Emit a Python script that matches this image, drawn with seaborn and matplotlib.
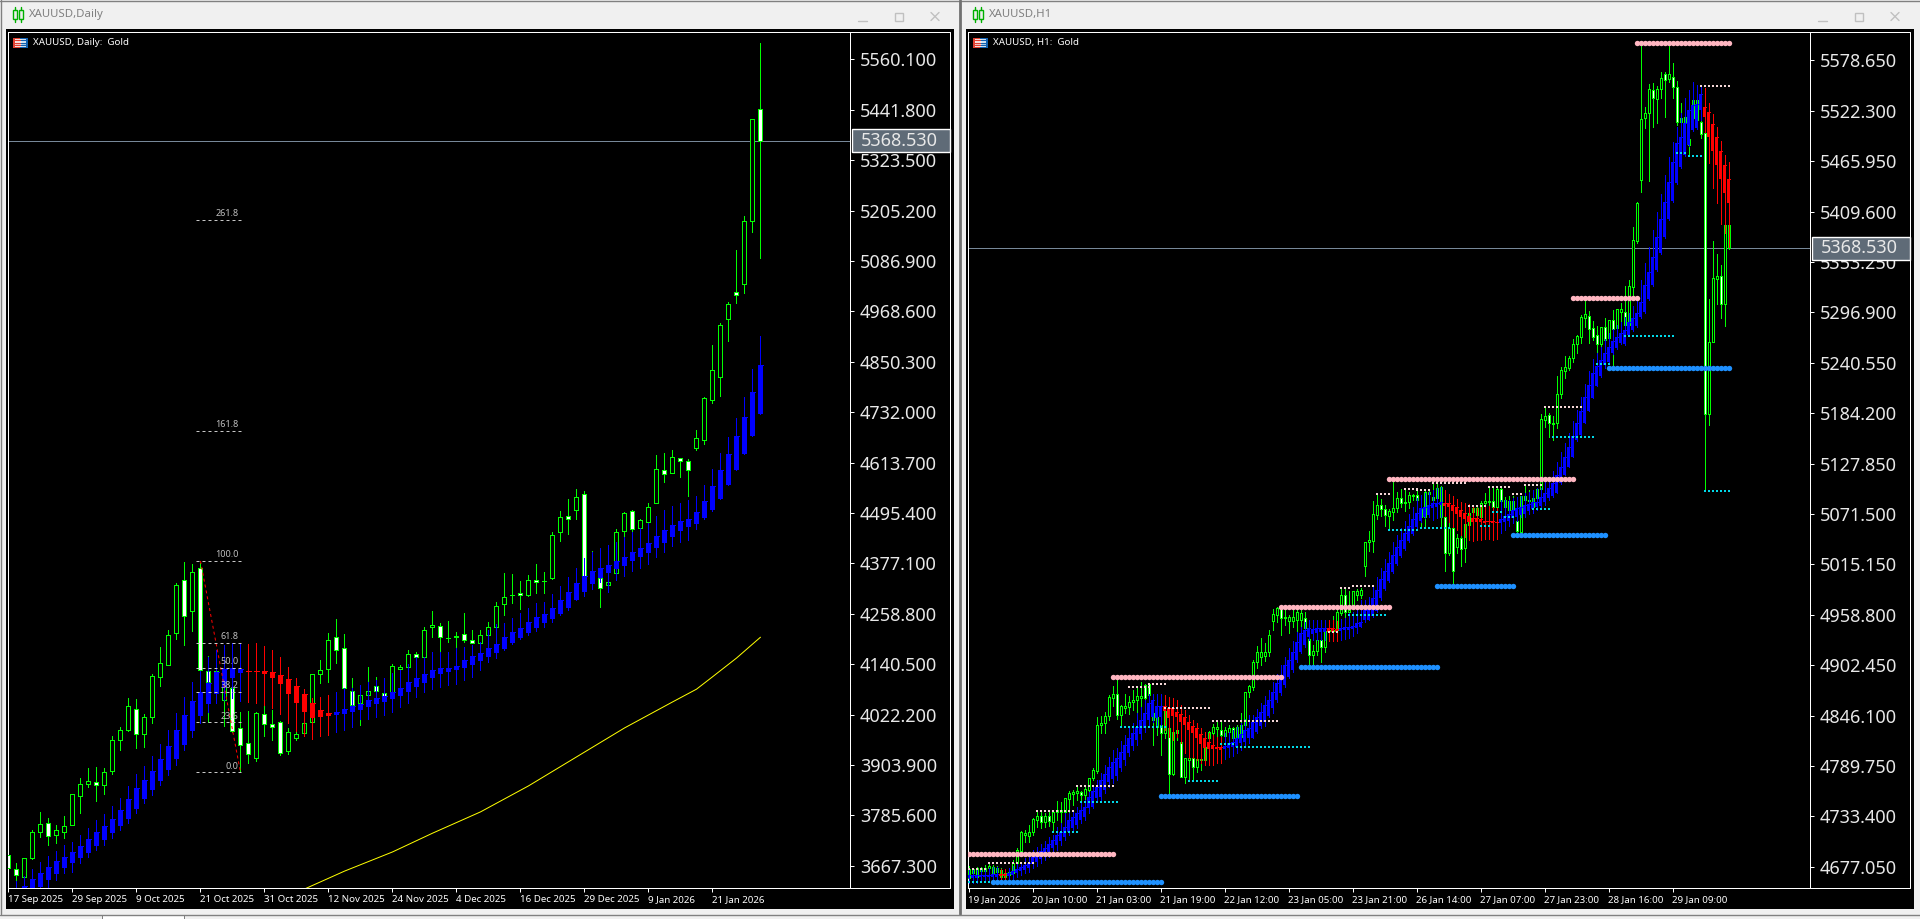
import pandas as pd
import numpy as np
import matplotlib
matplotlib.use('Agg')
import matplotlib.pyplot as plt
from matplotlib.patches import Rectangle
import seaborn as sns

W, H = 1920, 919

# ---- daily chart, values
d_high = [3693,3674,3686,3752,3794,3780,3763,3784,3836,3874,3897,3899,3897,3972,3993,4061,4059,4024,4118,4181,4221,4331,4381,4376,4378,4160,4132,4122,4090,4028,4031,4028,4047,4033,4007,3991,3989,4010,4118,4151,4214,4247,4212,4108,4092,4134,4111,4075,4141,4139,4174,4169,4228,4265,4237,4242,4216,4261,4221,4221,4240,4287,4355,4352,4336,4350,4376,4357,4451,4500,4528,4552,4547,4406,4362,4345,4458,4498,4503,4481,4519,4632,4636,4643,4625,4622,4690,4768,4890,4942,4991,5113,5192,5420,5599]
d_top = [3693,3659,3686,3747,3766,3768,3752,3761,3836,3859,3867,3864,3888,3963,3986,4042,4035,4017,4113,4143,4209,4327,4338,4357,4366,4125,4125,4104,4085,3991,3956,4026,4024,4000,4005,3982,3977,4003,4118,4127,4197,4204,4179,4078,4068,4078,4090,4073,4136,4134,4165,4165,4221,4233,4230,4203,4207,4212,4197,4209,4228,4277,4298,4304,4308,4338,4338,4337,4444,4486,4488,4533,4540,4352,4343,4334,4451,4495,4500,4479,4510,4599,4596,4627,4625,4618,4671,4765,4831,4937,4986,5014,5181,5420,5444]
d_bot = [3662,3645,3641,3686,3747,3737,3740,3747,3763,3831,3859,3857,3857,3890,3963,3986,3977,3977,4017,4111,4139,4214,4254,4266,4127,4099,4092,4057,3984,3951,3930,3920,4000,3993,3932,3937,3967,3979,4005,4118,4129,4174,4085,4045,4050,4068,4078,4066,4075,4129,4134,4158,4158,4228,4204,4201,4205,4197,4190,4190,4209,4228,4282,4302,4303,4303,4334,4335,4343,4451,4481,4503,4312,4334,4320,4327,4355,4453,4458,4460,4474,4519,4587,4589,4618,4596,4648,4667,4761,4815,4951,5007,5033,5181,5368.53]
d_low = [3655,3630,3620,3684,3735,3716,3721,3733,3763,3791,3852,3820,3836,3883,3939,3984,3944,3946,4003,4090,4139,4200,4186,4219,4125,4005,4050,3996,3982,3888,3909,3913,3972,3963,3927,3930,3963,3972,4005,4097,4099,4143,4080,4028,3998,4057,4057,4057,4075,4127,4122,4151,4158,4204,4169,4193,4174,4193,4190,4186,4207,4228,4256,4284,4270,4301,4308,4308,4341,4430,4446,4481,4301,4320,4275,4310,4355,4439,4451,4458,4470,4519,4568,4589,4580,4535,4643,4657,4753,4770,4899,4988,5012,5155,5094]
# bars with a white body
d_down = [0,1,5,11,16,22,24,25,28,29,30,32,33,34,41,42,43,46,47,51,54,57,58,64,66,70,72,74,78,82,84,85,91,94]

# smoothed candles drawn over the price
d2_top = [3600,3610,3620,3637,3651,3665,3679,3688,3700,3714,3730,3747,3761,3777,3798,3824,3850,3869,3890,3918,3949,3986,4021,4054,4075,4097,4122,4129,4132,4129,4124,4124,4125,4122,4115,4106,4090,4071,4050,4033,4026,4028,4035,4042,4047,4057,4061,4066,4075,4085,4099,4108,4118,4127,4132,4132,4136,4150,4160,4167,4179,4188,4205,4216,4226,4240,4251,4258,4273,4291,4310,4331,4348,4359,4366,4373,4383,4392,4404,4413,4425,4442,4456,4467,4477,4481,4498,4524,4559,4596,4634,4676,4721,4779,4843]
d2_bot = [3585,3590,3600,3604,3618,3634,3648,3662,3674,3686,3698,3714,3728,3744,3761,3777,3801,3824,3845,3867,3892,3918,3951,3984,4019,4047,4071,4085,4108,4120,4122,4122,4118,4108,4094,4071,4050,4028,4014,4017,4019,4021,4024,4028,4033,4040,4047,4052,4059,4066,4075,4087,4097,4108,4118,4122,4127,4132,4139,4148,4158,4167,4176,4190,4202,4214,4226,4237,4247,4258,4273,4291,4310,4329,4343,4355,4364,4371,4383,4392,4402,4413,4425,4439,4453,4463,4470,4484,4503,4528,4561,4596,4634,4676,4728]
d2_high = [3612,3632,3644,3660,3676,3691,3702,3716,3723,3740,3756,3775,3789,3808,3827,3855,3883,3902,3925,3953,3986,4026,4064,4099,4125,4158,4174,4186,4190,4190,4188,4190,4183,4174,4158,4134,4108,4082,4061,4064,4068,4075,4085,4085,4092,4099,4104,4108,4120,4127,4141,4158,4158,4169,4169,4169,4179,4181,4186,4193,4221,4235,4237,4249,4261,4273,4284,4287,4305,4324,4345,4366,4390,4404,4413,4420,4427,4439,4451,4460,4472,4488,4503,4512,4519,4526,4535,4561,4599,4636,4674,4719,4768,4833,4911]
d2_low = [3585,3590,3590,3590,3615,3618,3634,3651,3653,3674,3688,3705,3716,3733,3752,3768,3791,3815,3834,3857,3881,3904,3939,3970,4003,4028,4050,4057,4061,4054,4052,4050,4045,4038,4024,4003,3984,3972,3965,3972,3975,3982,3986,3993,4012,4012,4017,4021,4028,4040,4050,4064,4075,4082,4087,4092,4094,4104,4111,4127,4146,4155,4174,4188,4200,4209,4219,4228,4240,4256,4268,4291,4301,4317,4334,4310,4338,4348,4359,4366,4376,4392,4404,4418,4427,4432,4458,4481,4500,4528,4561,4596,4634,4676,4728]
d2_red = list(range(30, 41))

ma_bar = [37,42,48,53,59,65,71,77,83,86,88,91,94]
ma_price = [3613,3655,3700,3744,3794,3855,3923,3991,4052,4082,4111,4155,4204]

fib_names = ['0.0','23.6','38.2','50.0','61.8','100.0','161.8','261.8']
fib_price = [3887,4004,4076,4132,4191,4383,4688,5183]

d_ticks = [5560.1,5441.8,5323.5,5205.2,5086.9,4968.6,4850.3,4732.0,4613.7,4495.4,4377.1,4258.8,4140.5,4022.2,3903.9,3785.6,3667.3]
d_dates = ['17 Sep 2025','29 Sep 2025','9 Oct 2025','21 Oct 2025','31 Oct 2025','12 Nov 2025','24 Nov 2025','4 Dec 2025','16 Dec 2025','29 Dec 2025','9 Jan 2026','21 Jan 2026']

# ---- hourly chart
h_high = [4678,4676,4677,4677,4679,4681,4679,4678,4676,4673,4673,4685,4698,4717,4718,4724,4732,4738,4739,4737,4739,4738,4751,4749,4754,4762,4763,4767,4762,4767,4776,4787,4844,4846,4850,4869,4879,4887,4858,4870,4868,4875,4879,4884,4881,4882,4866,4849,4860,4852,4856,4839,4831,4818,4799,4799,4799,4798,4799,4824,4829,4837,4839,4840,4833,4836,4833,4836,4849,4872,4880,4908,4924,4933,4927,4942,4965,4967,4969,4970,4958,4964,4969,4967,4962,4953,4925,4940,4950,4944,4953,4957,4964,4989,4989,4985,4985,4988,4989,5040,5052,5086,5094,5088,5082,5077,5108,5096,5099,5100,5096,5094,5099,5079,5098,5098,5106,5107,5103,5069,5064,5057,5049,5049,5060,5076,5082,5082,5086,5095,5103,5102,5100,5100,5090,5092,5091,5071,5091,5105,5098,5096,5100,5183,5191,5184,5181,5226,5236,5248,5248,5267,5272,5294,5310,5298,5287,5282,5280,5291,5288,5299,5301,5307,5326,5333,5392,5420,5598,5527,5552,5553,5550,5566,5566,5596,5576,5556,5531,5521,5510,5536,5536,5518,5540,5312,5377,5362,5350,5395,5395]
h_top = [4675,4675,4676,4676,4676,4678,4677,4676,4673,4670,4671,4681,4696,4716,4715,4716,4730,4734,4734,4734,4734,4738,4741,4741,4754,4760,4761,4762,4761,4764,4776,4785,4836,4838,4846,4867,4870,4870,4857,4857,4861,4863,4868,4868,4880,4881,4849,4844,4836,4851,4832,4828,4830,4817,4799,4799,4799,4798,4798,4811,4828,4833,4833,4830,4830,4832,4832,4833,4836,4872,4879,4906,4917,4917,4917,4936,4960,4966,4967,4956,4956,4956,4962,4961,4955,4932,4918,4931,4931,4941,4942,4942,4962,4981,4981,4964,4985,4985,4986,5040,5042,5071,5082,5082,5077,5075,5078,5089,5089,5085,5093,5093,5093,5078,5096,5096,5090,5100,5102,5068,5056,5056,5045,5045,5060,5072,5078,5078,5084,5086,5086,5086,5099,5099,5087,5086,5086,5064,5091,5091,5087,5089,5099,5178,5181,5182,5173,5206,5232,5236,5246,5261,5270,5292,5295,5293,5279,5272,5280,5280,5288,5288,5301,5301,5297,5326,5378,5419,5513,5520,5547,5545,5547,5559,5563,5563,5560,5549,5514,5515,5491,5534,5534,5510,5497,5264,5335,5338,5338,5395,5395]
h_bot = [4664,4670,4666,4672,4672,4676,4670,4671,4666,4666,4668,4670,4681,4695,4713,4711,4716,4729,4727,4727,4728,4727,4738,4738,4738,4753,4758,4760,4757,4757,4763,4776,4784,4836,4838,4846,4866,4847,4847,4855,4856,4861,4863,4866,4866,4869,4841,4833,4827,4827,4781,4781,4827,4777,4777,4796,4789,4789,4796,4796,4821,4827,4831,4824,4823,4828,4821,4822,4822,4836,4872,4878,4906,4912,4913,4917,4952,4958,4955,4955,4952,4952,4953,4953,4944,4914,4914,4918,4923,4923,4941,4941,4942,4961,4962,4962,4967,4981,4981,5013,5040,5041,5070,5077,5070,5069,5074,5078,5084,5084,5085,5092,5087,5068,5068,5094,5087,5089,5068,5028,5028,5008,5035,5032,5033,5059,5074,5070,5068,5084,5085,5079,5079,5086,5079,5076,5077,5052,5051,5087,5086,5079,5089,5099,5177,5173,5172,5173,5206,5231,5235,5246,5261,5269,5291,5278,5269,5261,5261,5266,5268,5278,5279,5297,5283,5283,5325,5377,5445,5514,5520,5536,5535,5547,5557,5558,5549,5510,5510,5510,5484,5514,5512,5496,5183,5183,5264,5334,5306,5306,5369]
h_low = [4661,4663,4661,4667,4664,4669,4662,4664,4660,4661,4663,4664,4678,4692,4705,4705,4713,4721,4720,4721,4723,4716,4729,4724,4729,4738,4746,4752,4748,4752,4762,4774,4782,4827,4827,4841,4857,4842,4833,4849,4848,4852,4850,4856,4864,4857,4813,4824,4802,4821,4757,4780,4819,4777,4771,4773,4774,4783,4785,4794,4813,4821,4821,4819,4815,4819,4816,4819,4821,4833,4867,4875,4899,4903,4907,4913,4942,4951,4936,4947,4938,4945,4940,4936,4936,4903,4903,4914,4906,4917,4929,4940,4941,4959,4953,4956,4967,4975,4977,5002,5030,5029,5066,5069,5058,5054,5065,5074,5079,5075,5078,5087,5079,5057,5058,5090,5065,5087,5058,5008,5026,4993,5028,5013,5018,5057,5065,5065,5065,5079,5082,5074,5079,5085,5072,5069,5074,5050,5050,5076,5076,5076,5087,5099,5169,5157,5154,5168,5201,5224,5232,5241,5251,5263,5280,5263,5266,5251,5258,5260,5266,5238,5277,5286,5277,5280,5314,5374,5431,5503,5444,5504,5509,5536,5515,5554,5536,5506,5506,5501,5473,5510,5506,5492,5097,5171,5264,5306,5291,5282,5368]
h_down = [1,3,4,7,8,9,18,20,23,28,37,44,45,47,48,50,53,56,63,66,78,84,85,88,94,103,104,108,112,115,119,121,123,131,133,137,145,155,156,157,159,161,164,171,174,176,177,183,184,188]

h2_top = [4668,4668,4668,4668,4668,4668,4669,4669,4669,4669,4670,4672,4675,4677,4679,4681,4688,4690,4695,4698,4703,4707,4713,4716,4721,4729,4733,4737,4741,4744,4755,4762,4766,4774,4781,4789,4794,4799,4805,4813,4821,4827,4833,4841,4849,4860,4864,4857,4857,4857,4855,4855,4850,4848,4844,4839,4834,4832,4826,4821,4817,4813,4811,4811,4812,4815,4817,4821,4826,4830,4832,4839,4844,4850,4858,4864,4872,4883,4891,4903,4908,4917,4928,4938,4942,4944,4943,4944,4944,4944,4944,4944,4943,4944,4945,4945,4946,4950,4951,4964,4965,4978,4986,4999,5008,5017,5026,5035,5042,5050,5058,5066,5072,5078,5079,5082,5084,5084,5085,5084,5084,5082,5079,5076,5072,5069,5067,5067,5066,5064,5064,5064,5062,5066,5069,5071,5076,5078,5079,5082,5083,5085,5085,5090,5095,5100,5106,5115,5124,5135,5146,5159,5173,5187,5202,5216,5229,5237,5244,5251,5258,5265,5269,5274,5277,5286,5291,5296,5308,5327,5342,5359,5381,5401,5420,5443,5465,5486,5493,5509,5523,5529,5530,5541,5526,5521,5507,5493,5477,5462,5446]
h2_bot = [4664,4664,4664,4666,4666,4666,4666,4666,4667,4667,4667,4668,4670,4672,4673,4676,4680,4682,4686,4689,4694,4698,4701,4706,4710,4716,4720,4724,4729,4733,4743,4744,4754,4755,4763,4772,4775,4779,4787,4796,4804,4812,4819,4826,4832,4841,4844,4843,4844,4851,4843,4846,4844,4839,4836,4830,4827,4821,4814,4810,4809,4809,4809,4808,4809,4810,4811,4811,4815,4817,4821,4821,4828,4834,4839,4846,4855,4864,4871,4880,4889,4897,4908,4917,4925,4934,4937,4938,4940,4940,4940,4940,4940,4941,4942,4942,4943,4944,4945,4953,4953,4957,4963,4978,4988,4997,5007,5016,5025,5032,5041,5049,5057,5064,5068,5070,5078,5079,5082,5080,5079,5075,5071,5068,5066,5062,5062,5062,5062,5061,5062,5061,5061,5061,5062,5064,5067,5068,5070,5071,5075,5077,5079,5080,5085,5089,5092,5095,5106,5115,5124,5135,5154,5160,5173,5187,5201,5215,5226,5238,5241,5251,5257,5263,5261,5272,5277,5282,5292,5297,5312,5327,5344,5363,5381,5401,5421,5441,5459,5473,5484,5501,5503,5523,5515,5493,5477,5462,5446,5430,5419]
h2_high = [4676,4676,4676,4676,4676,4676,4677,4677,4675,4675,4676,4678,4681,4682,4687,4690,4696,4699,4703,4706,4710,4713,4721,4726,4737,4737,4741,4744,4748,4752,4761,4766,4774,4782,4791,4800,4808,4810,4818,4824,4832,4838,4849,4856,4864,4870,4870,4870,4870,4869,4867,4866,4864,4858,4852,4847,4841,4838,4832,4828,4827,4824,4822,4822,4827,4828,4830,4833,4838,4842,4847,4847,4853,4860,4868,4875,4884,4892,4903,4912,4922,4929,4939,4945,4951,4953,4953,4953,4953,4953,4953,4953,4952,4954,4955,4961,4962,4966,4975,4975,4979,4990,5001,5011,5021,5029,5040,5048,5056,5064,5071,5079,5089,5093,5095,5096,5098,5100,5102,5098,5094,5091,5088,5085,5084,5083,5079,5078,5080,5079,5080,5079,5078,5087,5087,5087,5089,5090,5092,5095,5096,5098,5100,5100,5109,5112,5120,5130,5141,5151,5162,5175,5188,5202,5217,5231,5245,5251,5258,5267,5274,5278,5283,5286,5292,5296,5304,5314,5333,5352,5370,5389,5409,5429,5450,5471,5487,5504,5520,5536,5545,5554,5551,5551,5548,5531,5519,5504,5488,5473,5465]
h2_low = [4659,4659,4659,4660,4660,4660,4661,4661,4661,4661,4662,4662,4666,4668,4670,4671,4676,4678,4681,4685,4688,4694,4696,4701,4707,4713,4716,4720,4726,4729,4737,4743,4749,4752,4760,4766,4771,4774,4784,4791,4801,4808,4813,4820,4828,4836,4839,4836,4836,4830,4822,4819,4822,4815,4804,4799,4799,4796,4793,4791,4791,4791,4793,4793,4798,4800,4801,4804,4808,4811,4815,4821,4827,4832,4834,4844,4849,4861,4869,4878,4888,4895,4906,4916,4923,4931,4931,4931,4931,4931,4930,4930,4929,4931,4932,4933,4935,4938,4945,4951,4953,4956,4962,4975,4986,4995,5006,5014,5023,5031,5040,5048,5055,5062,5067,5068,5065,5067,5068,5069,5062,5057,5054,5048,5046,5042,5041,5042,5042,5043,5043,5042,5044,5050,5054,5058,5061,5064,5068,5068,5071,5072,5076,5078,5082,5087,5090,5095,5105,5115,5124,5135,5153,5159,5173,5187,5201,5215,5225,5235,5241,5250,5256,5261,5260,5270,5276,5280,5291,5296,5311,5326,5343,5362,5380,5400,5420,5440,5458,5472,5483,5500,5502,5512,5498,5464,5436,5419,5396,5386,5370]
h2_red = [8,9] + list(range(49, 64)) + [90,91,92] + list(range(119, 133)) + list(range(184, 191))

# support / resistance levels: price, first bar, last bar
pink_levels = [(4691,0,36),(4889,36,78),(4968,78,105),(5111,105,151),(5313,151,167),(5598,167,190)]
blue_levels = [(4660,6,48),(4756,48,82),(4900,83,117),(4991,117,136),(5048,136,159),(5235,160,190)]
white_levels = [(4675,0,4),(4681,5,16),(4739,17,26),(4767,27,36),(4878,40,45),(4881,45,49),(4855,49,60),(4840,61,77),
                (4940,90,92),(4989,93,95),(4991,96,101),(5094,102,105),(5099,109,112),(5098,112,115),(5106,116,124),
                (5080,125,129),(5102,130,135),(5094,136,138),(5104,139,143),(5191,144,153),(5550,183,190)]
cyan_levels = [(4660,0,6),(4716,21,27),(4749,28,37),(4833,38,49),(4773,55,62),(4814,63,66),(4811,67,85),(4959,95,104),
               (5054,105,112),(5056,113,120),(5058,128,130),(5074,131,133),(5068,134,136),(5077,141,145),(5158,146,156),
               (5239,157,160),(5270,164,176),(5475,177,179),(5472,180,183),(5097,184,190)]

h_ticks = [5578.65,5522.30,5465.95,5409.60,5353.25,5296.90,5240.55,5184.20,5127.85,5071.50,5015.15,4958.80,4902.45,4846.10,4789.75,4733.40,4677.05]
h_dates = ['19 Jan 2026','20 Jan 10:00','21 Jan 03:00','21 Jan 19:00','22 Jan 12:00','23 Jan 05:00','23 Jan 21:00','26 Jan 14:00','27 Jan 07:00','27 Jan 23:00','28 Jan 16:00','29 Jan 09:00']

last_price = 5368.53

sns.set_theme(style='dark', rc={'axes.facecolor': 'black', 'axes.grid': False})
plt.rcParams['font.family'] = ['Noto Sans', 'DejaVu Sans']

PX = 0.72  # one pixel in points at dpi 100
LIME = '#00ff00'
TXT = '#e8e8e8'


def px_axes(fig, left, top, right, bottom, zorder):
    return fig.add_axes([left / W, (H - bottom) / H, (right - left) / W, (bottom - top) / H], zorder=zorder)


def draw_candles(ax, top, bot, high, low, down, width):
    df = pd.DataFrame({'top': top, 'bot': bot, 'high': high, 'low': low})
    df['bar'] = df.index
    df['face'] = 'black'
    df.loc[down, 'face'] = 'white'
    ax.vlines(df['bar'], df['low'], df['high'], colors=LIME, linewidth=PX, antialiased=False, zorder=2)
    ax.bar(df['bar'], df['top'] - df['bot'], bottom=df['bot'], width=width, color=df['face'],
           edgecolor=LIME, linewidth=PX, antialiased=False, zorder=3)


def draw_smooth(ax, top, bot, high, low, red, width):
    df = pd.DataFrame({'top': top, 'bot': bot, 'high': high, 'low': low})
    df['bar'] = df.index
    df['col'] = '#0000ff'
    df.loc[red, 'col'] = '#ff0000'
    ax.vlines(df['bar'], df['low'], df['high'], colors=df['col'], linewidth=PX, antialiased=False, zorder=4)
    ax.bar(df['bar'], df['top'] - df['bot'], bottom=df['bot'], width=width, color=df['col'],
           edgecolor='none', linewidth=0, antialiased=False, zorder=4)
    # thin bodies still need one row of pixels
    ax.hlines(df['top'], df['bar'] - width / 2, df['bar'] + width / 2, colors=df['col'], linewidth=PX,
              antialiased=False, zorder=4)


def draw_levels(ax, levels, color, marker, size, zorder):
    rows = []
    for price, first, last in levels:
        for b in range(first, last + 1):
            rows.append((b, price))
    dots = pd.DataFrame(rows, columns=['bar', 'price'])
    sns.scatterplot(data=dots, x='bar', y='price', color=color, marker=marker, s=size, linewidth=0,
                    legend=False, ax=ax, zorder=zorder)


def style_price_axes(ax, ticks, dates, step, xlim, ylim):
    ax.set_xlim(*xlim)
    ax.set_ylim(*ylim)
    ax.set_facecolor('black')
    ax.yaxis.tick_right()
    ax.set_yticks(ticks)
    ax.set_yticklabels(['%.3f' % t for t in ticks], fontsize=13, color=TXT)
    ax.set_xticks([i * step for i in range(len(dates))])
    ax.set_xticklabels(dates, fontsize=7, color='white', ha='left')
    ax.tick_params(axis='y', length=2.9, width=PX, color='white', pad=4.2, right=True, left=False)
    ax.tick_params(axis='x', length=2.9, width=PX, color='white', pad=2, bottom=True)
    ax.set_xlabel('')
    ax.set_ylabel('')
    for s in ax.spines.values():
        s.set_color('white')
        s.set_linewidth(PX)
    ax.axhline(last_price, color='#778899', linewidth=PX, zorder=1)


fig = plt.figure(figsize=(W / 100, H / 100), dpi=100, facecolor='#f0f0f0')

# window frames behind everything
back = fig.add_axes([0, 0, 1, 1], zorder=0)
back.set_xlim(0, W)
back.set_ylim(H, 0)
back.axis('off')
for off in [0, 960]:
    back.add_patch(Rectangle((6 + off, 29), 948, 880, facecolor='black', edgecolor='none'))
    back.plot([850 + off, 950 + off, 950 + off, 850 + off], [32, 32, 888, 888], color='white', linewidth=PX)
back.plot([0, 959], [0.5, 0.5], color='#808080', linewidth=1)
back.plot([961, W], [0.5, 0.5], color='#808080', linewidth=1)
back.plot([0.5, 0.5], [0, 914], color='#808080', linewidth=1)
back.plot([960, 960], [0, 914], color='#707070', linewidth=2)
back.plot([0, W], [914.5, 914.5], color='#808080', linewidth=1)
back.add_patch(Rectangle((102, 915), 82, 4, facecolor='white', edgecolor='#808080', linewidth=PX))

# ---- daily panel
ax1 = px_axes(fig, 8, 32, 850, 888, 1)
draw_candles(ax1, d_top, d_bot, d_high, d_low, d_down, 0.5)
draw_smooth(ax1, d2_top, d2_bot, d2_high, d2_low, d2_red, 0.6)
sns.lineplot(x=ma_bar, y=ma_price, color='#ffff00', linewidth=PX, ax=ax1, zorder=5)
sns.lineplot(x=[24, 29], y=[4383, 3887], color='#ff0000', linewidth=PX, linestyle=(0, (3, 3)), ax=ax1, zorder=6)
for name, price in zip(fib_names, fib_price):
    ax1.plot([23.4, 29.1], [price, price], color='#c8c8c8', linewidth=PX, linestyle=(0, (3, 3)), zorder=6)
    ax1.text(28.75, price + 4, name, color='#c0c0c0', fontsize=6.5, ha='right', va='bottom', zorder=6)
style_price_axes(ax1, d_ticks, d_dates, 8, (-0.0625, 105.19), (3615.4, 5624.4))

# ---- hourly panel
ax2 = px_axes(fig, 968, 32, 1810, 888, 1)
draw_candles(ax2, h_top, h_bot, h_high, h_low, h_down, 0.5)
draw_smooth(ax2, h2_top, h2_bot, h2_high, h2_low, h2_red, 0.7)
draw_levels(ax2, white_levels, '#f3d6d6', 's', 3, 6)
draw_levels(ax2, cyan_levels, '#00d8e8', 's', 3, 6)
draw_levels(ax2, pink_levels, '#ffb6c1', 'o', 15, 7)
draw_levels(ax2, blue_levels, '#1e90ff', 'o', 15, 7)
style_price_axes(ax2, h_ticks, h_dates, 16, (-0.125, 210.375), (4653.3, 5610.3))

# ---- labels, icons and buttons on top
top = fig.add_axes([0, 0, 1, 1], zorder=5)
top.patch.set_alpha(0)
top.set_xlim(0, W)
top.set_ylim(H, 0)
top.axis('off')

panels = [(0, 'XAUUSD,Daily', 'XAUUSD, Daily:  Gold', 140.3), (960, 'XAUUSD,H1', 'XAUUSD, H1:  Gold', 247.5)]
for off, title, head, y_last in panels:
    top.text(29 + off, 15, title, color='#808080', fontsize=8.2, va='center', ha='left')
    top.text(33 + off, 42.5, head, color='white', fontsize=7, va='center', ha='left')
    # green candles icon
    for cx in [15, 21]:
        top.add_patch(Rectangle((cx - 2 + off, 10), 4, 9, facecolor='none', edgecolor='#00b000', linewidth=1))
        top.plot([cx + off, cx + off], [7, 10], color='#00b000', linewidth=1)
        top.plot([cx + off, cx + off], [19, 22], color='#00b000', linewidth=1)
    # flag icon
    top.add_patch(Rectangle((13 + off, 37.5), 7, 10.5, facecolor='#e04030', edgecolor='none'))
    top.add_patch(Rectangle((20 + off, 37.5), 7.5, 10.5, facecolor='#1060b0', edgecolor='none'))
    top.add_patch(Rectangle((14.5 + off, 39), 11.5, 7.5, facecolor='white', edgecolor='none'))
    for sy in [40, 42.5, 45]:
        top.plot([14.5 + off, 20 + off], [sy, sy], color='#e04030', linewidth=1)
        top.plot([21 + off, 26 + off], [sy, sy], color='#1060b0', linewidth=1)
    # window buttons
    top.plot([858 + off, 867 + off], [20.5, 20.5], color='#c0c0c0', linewidth=1)
    top.add_patch(Rectangle((895 + off, 12.5), 8, 8, facecolor='none', edgecolor='#c0c0c0', linewidth=1))
    top.plot([931 + off, 939 + off], [12.5, 20.5], color='#c0c0c0', linewidth=1)
    top.plot([931 + off, 939 + off], [20.5, 12.5], color='#c0c0c0', linewidth=1)
    # last price tag
    top.add_patch(Rectangle((851.5 + off, y_last - 11), 98, 23, facecolor='#5f6b77', edgecolor='white', linewidth=1))
    top.text(861 + off, y_last + 0.5, '%.3f' % last_price, color=TXT, fontsize=13, va='center', ha='left')

fig.savefig('out.png', dpi=100, facecolor=fig.get_facecolor())
